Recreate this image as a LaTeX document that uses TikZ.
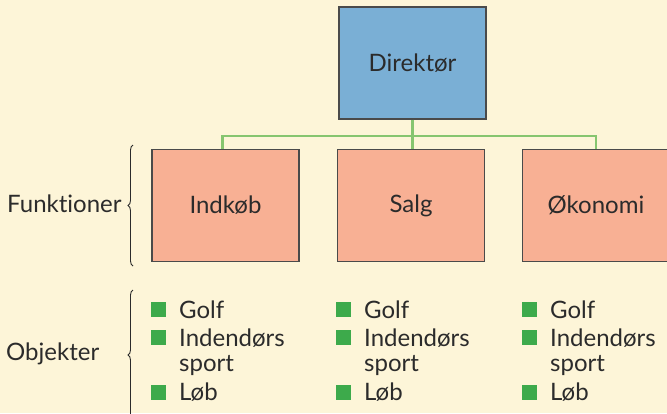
\documentclass[tikz,border=0pt]{standalone}
\usepackage{fontspec}
\setmainfont{Lato}[Ligatures=NoCommon]
\usetikzlibrary{decorations.pathreplacing}
\definecolor{paper}{HTML}{FDF5D8}
\definecolor{boss}{HTML}{7AAFD5}
\definecolor{unit}{HTML}{F8B094}
\definecolor{wire}{HTML}{86C56F}
\definecolor{dot}{HTML}{3DAA4B}
\definecolor{ink}{HTML}{2B2B2B}
\definecolor{edge}{HTML}{4A4A4A}
\begin{document}
\begin{tikzpicture}[x=1pt,y=-1pt,
  txt/.style={font=\fontsize{24}{28}\selectfont,text=ink},
  box/.style={txt,draw=edge,line width=1.3pt,minimum width=147pt,minimum height=112pt,
    inner sep=0pt},
  conn/.style={draw=wire,line width=2.5pt},
  brc/.style={draw=ink,line width=0.9pt,decorate,decoration={brace,amplitude=5pt}},
  side/.style={txt,anchor=west,inner sep=0pt},
  item/.style={txt,anchor=west,inner sep=0pt},
  sq/.style={fill=dot,minimum size=15pt,inner sep=0pt}]
\fill[paper] (0,0) rectangle (667,413);
\useasboundingbox (0,0) rectangle (667,413);

% boxes
\node[box,fill=boss] (dir) at (412.5,63) {Direktør};
\node[box,fill=unit] (ind) at (225.5,205.5) {Indkøb};
\node[box,fill=unit] (sal) at (411,205.5) {Salg};
\node[box,fill=unit] (oko) at (596,205.5) {Økonomi};

% connectors
\coordinate (j) at (412.5,136);
\draw[conn] (dir.south) -- (j);
\draw[conn] ([xshift=-3pt]ind.north) |- (j) -| (oko.north);
\draw[conn] (j) -- (sal.north -| j);

% braces and side labels
\draw[brc] (133,266) -- (133,145);
\draw[brc] (133,420) -- (133,290);
\node[side] (fun) at (7,204) {Funktioner};
\node[side] (obj) at (6,354) {Objekter};

% object lists
\foreach \c/\x in {a/151,b/336,c/522}{
  \node[sq] (\c1) at (\x+7.5,309.5) {};
  \node[sq] (\c2) at (\x+7.5,337.5) {};
  \node[sq] (\c3) at (\x+7.5,392) {};
  \node[item] (\c g) at (\x+28,310) {Golf};
  \node[item] (\c i) at (\x+28,338) {Indendørs};
  \node[item] (\c s) at (\x+28,365) {sport};
  \node[item] (\c l) at (\x+28,392) {Løb};
}
\end{tikzpicture}
\end{document}
